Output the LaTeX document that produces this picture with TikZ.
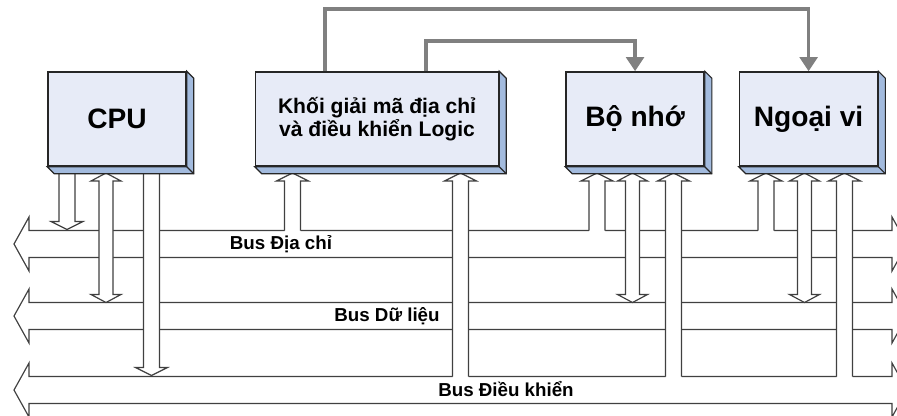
\documentclass[tikz,border=0pt]{standalone}
\usepackage{fontspec}
\setmainfont{Liberation Sans}
\usetikzlibrary{positioning,arrows.meta}

\definecolor{boxfill}{RGB}{231,235,247}
\definecolor{boxside}{RGB}{163,187,222}
\definecolor{linkgray}{RGB}{128,128,128}

\tikzset{
  unit/.style={draw=black!85, line width=1.3pt, fill=boxfill, minimum width=4.14cm,
    minimum height=2.82cm, inner sep=0pt, font=\bfseries\fontsize{24}{26}\selectfont},
  side/.style={draw=black!85, line width=1pt, fill=boxside},
  bus/.style={draw=black!75, line width=1pt, fill=white},
  hollow/.style={draw=black!75, line width=1pt},
  link/.style={draw=linkgray, line width=3pt, -{Triangle[length=12pt,width=15pt]}},
  buslabel/.style={anchor=base, font=\bfseries\fontsize{16}{18}\selectfont}
}

\begin{document}
\begin{tikzpicture}[x=0.03cm, y=-0.03cm]
	\useasboundingbox (0,0) rectangle (897,415);
	% three buses, right heads run off the page
	\foreach \y in {244, 316, 390}
		\draw[bus] (14,\y) -- (29,\y-27) -- (29,\y-13.5) -- (892,\y-13.5) -- (892,\y-27) -- (907,\y)
			-- (892,\y+27) -- (892,\y+13.5) -- (29,\y+13.5) -- (29,\y+27) -- cycle;
	% bus to unit
	\foreach \x/\yb in {292.5/230.5, 460.5/376.5, 597/230.5, 673.5/376.5, 766/230.5, 844.5/376.5} {
		\fill[white] (\x-8,\yb+2) -- (\x-8,181) -- (\x-16,181) -- (\x,173) -- (\x+16,181) -- (\x+8,181) -- (\x+8,\yb+2) -- cycle;
		\draw[hollow] (\x-8,\yb) -- (\x-8,181) -- (\x-16,181) -- (\x,173) -- (\x+16,181) -- (\x+8,181) -- (\x+8,\yb);
	}
	% unit to bus
	\foreach \x/\yb in {67/229.5, 151.5/375.5} {
		\fill[white] (\x-8,173) -- (\x-8,\yb-8) -- (\x-16,\yb-8) -- (\x,\yb) -- (\x+16,\yb-8) -- (\x+8,\yb-8) -- (\x+8,173) -- cycle;
		\draw[hollow] (\x-8,173) -- (\x-8,\yb-8) -- (\x-16,\yb-8) -- (\x,\yb) -- (\x+16,\yb-8) -- (\x+8,\yb-8) -- (\x+8,173);
	}
	% data, both ways
	\foreach \x in {106, 632.5, 804.5}
		\filldraw[hollow, fill=white] (\x,173) -- (\x+15,181) -- (\x+7,181) -- (\x+7,294.5) -- (\x+15,294.5) -- (\x,302.5)
			-- (\x-15,294.5) -- (\x-7,294.5) -- (\x-7,181) -- (\x-15,181) -- cycle;

	\node[unit] (cpu) at (117,119) {CPU};
	\node[unit, minimum width=7.29cm, right=2.04cm of cpu, align=center,
		font=\bfseries\fontsize{18}{18}\selectfont] (khoi) {Khối giải mã địa chỉ\\và điều khiển Logic};
	\node[unit, right=1.98cm of khoi] (nho) {Bộ nhớ};
	\node[unit, right=1.02cm of nho] (ngoai) {Ngoại vi};
	\foreach \b in {cpu, khoi, nho, ngoai} {
		\filldraw[side] (\b.north east) -- ([shift={(7,7)}]\b.north east) -- ([shift={(7,7)}]\b.south east)
			-- ([shift={(7,7)}]\b.south west) -- (\b.south west) -- (\b.south east) -- cycle;
		\draw[side] (\b.south east) -- ([shift={(7,7)}]\b.south east);
	}

	\draw[link] ([shift={(70,0)}]khoi.north west) -- ++(0,-62) -| (ngoai.north);
	\draw[link] ([shift={(171,0)}]khoi.north west) -- ++(0,-30) -| (nho.north);

	\node[buslabel] (addr) at (281,249) {Bus Địa chỉ};
	\node[buslabel] (data) at (387,321) {Bus Dữ liệu};
	\node[buslabel] (ctrl) at (506,396) {Bus Điều khiển};
\end{tikzpicture}
\end{document}
